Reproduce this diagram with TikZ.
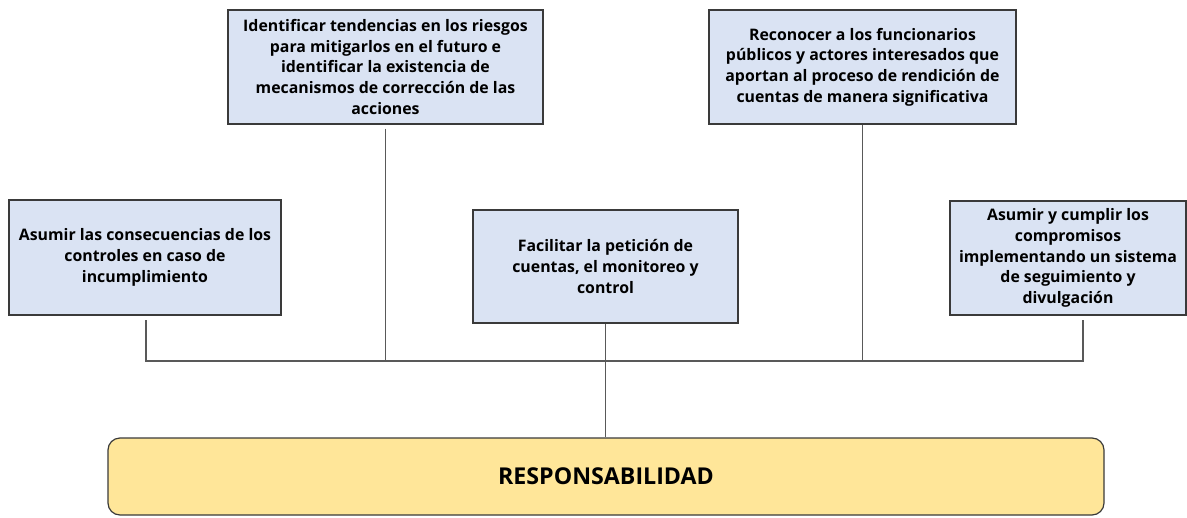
\documentclass[tikz,border=0pt]{standalone}
\usepackage{fontspec}
\setmainfont{Open Sans}
\definecolor{boxfill}{HTML}{DAE3F3}
\definecolor{boxline}{HTML}{3A3A3A}
\definecolor{bigfill}{HTML}{FFE699}
\definecolor{conn}{HTML}{595959}
\begin{document}
\begin{tikzpicture}[x=0.75pt,y=-0.75pt,
  box/.style={draw=boxline, line width=0.9pt, fill=boxfill, inner sep=0pt, align=center,
    font=\fontsize{11.9}{15.5}\selectfont\bfseries},
  bigbox/.style={draw=boxline, line width=0.9pt, fill=bigfill, rounded corners=9pt, inner sep=0pt,
    font=\fontsize{17.4}{20}\selectfont\bfseries},
  conline/.style={draw=conn, line width=0.8pt}]
\useasboundingbox (0,0) rectangle (1187,517);
\node[box, minimum width=204pt, minimum height=86.25pt] (A) at (145,257.5)
  {Asumir las consecuencias de los\\controles en caso de\\incumplimiento};
\node[box, minimum width=236.25pt, minimum height=85.5pt] (B) at (385.5,67)
  {Identificar tendencias en los riesgos\\para mitigarlos en el futuro e\\identificar la existencia de\\mecanismos de corrección de las\\acciones};
\node[box, minimum width=198.75pt, minimum height=84.75pt] (C) at (605.5,266.5)
  {Facilitar la petición de\\cuentas, el monitoreo y\\control};
\node[box, minimum width=230.25pt, minimum height=85.5pt] (D) at (862.5,67)
  {Reconocer a los funcionarios\\públicos y actores interesados que\\aportan al proceso de rendición de\\cuentas de manera significativa};
\node[box, minimum width=177pt, minimum height=85.5pt] (E) at (1068,258)
  {Asumir y cumplir los\\compromisos\\implementando un sistema\\de seguimiento y\\divulgación};
\node[bigbox, minimum width=747pt, minimum height=57.75pt] (R) at (606,476.5) {RESPONSABILIDAD};
\coordinate (busL) at (146,361);
\coordinate (busR) at (1083,361);
\coordinate (Aend) at (146,320);
\coordinate (Eend) at (1083,320);
\draw[conline] (Aend) -- (busL) -- (busR) -- (Eend);
\draw[conline] ([yshift=-3pt]B.south) -- (B.south |- busL);
\draw[conline] (D.south) -- (D.south |- busL);
\draw[conline] (C.south) -- (R.north -| C.south);
\end{tikzpicture}
\end{document}
